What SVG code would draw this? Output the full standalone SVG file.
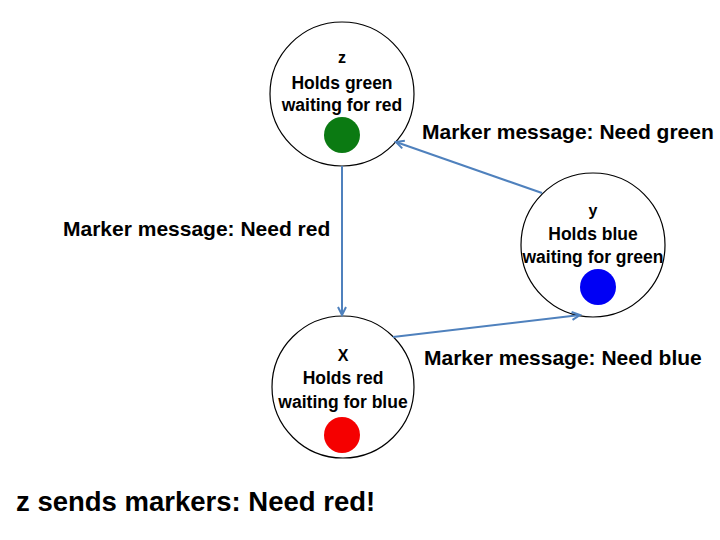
<svg xmlns="http://www.w3.org/2000/svg" width="720" height="540" viewBox="0 0 720 540">
<style>
.node{fill:#fff;stroke:#000;stroke-width:1.2}
.t{font-family:"Liberation Sans",Arial,sans-serif;font-weight:bold;fill:#000;text-anchor:middle}
.nm{font-size:16px}
.ln{font-size:17.5px}
.lbl{font-family:"Liberation Sans",Arial,sans-serif;font-weight:bold;font-size:21px;fill:#000}
.edge{stroke:#4F81BD;stroke-width:2;fill:none;marker-end:url(#ah)}
</style>
<defs>
<marker id="ah" markerWidth="12" markerHeight="12" refX="9" refY="5" orient="auto" markerUnits="userSpaceOnUse">
<path d="M1,1 L9,5 L1,9" fill="none" stroke="#4F81BD" stroke-width="2"/>
</marker>
</defs>
<rect width="720" height="540" fill="#fff"/>
<g id="node-z">
<circle class="node" cx="342" cy="94" r="72"/>
<text class="t nm" x="342" y="63">z</text>
<text class="t ln" x="342" y="89">Holds green</text>
<text class="t ln" x="342" y="111">waiting for red</text>
<circle cx="342" cy="135" r="18" fill="#0B7A12"/>
</g>
<g id="node-y">
<circle class="node" cx="593" cy="245" r="72"/>
<text class="t nm" x="593" y="216">y</text>
<text class="t ln" x="593" y="240">Holds blue</text>
<text class="t ln" x="593" y="263">waiting for green</text>
<circle cx="598" cy="287" r="18" fill="#0000F5"/>
</g>
<g id="node-x">
<circle class="node" cx="343" cy="387" r="71"/>
<text class="t nm" x="343" y="361">X</text>
<text class="t ln" x="343" y="384">Holds red</text>
<text class="t ln" x="343" y="408">waiting for blue</text>
<circle cx="342" cy="435" r="18" fill="#F50000"/>
</g>
<g id="connectors">
<line class="edge" x1="342" y1="166" x2="342" y2="315"/>
<line class="edge" x1="542" y1="193" x2="396" y2="142"/>
<line class="edge" x1="393" y1="337" x2="580" y2="315"/>
</g>
<g id="labels">
<text class="lbl" x="422" y="139">Marker message: Need green</text>
<text class="lbl" x="63" y="236">Marker message: Need red</text>
<text class="lbl" x="424" y="365">Marker message: Need blue</text>
<text class="lbl" x="16" y="511" style="font-size:27.5px">z sends markers: Need red!</text>
</g>
</svg>
